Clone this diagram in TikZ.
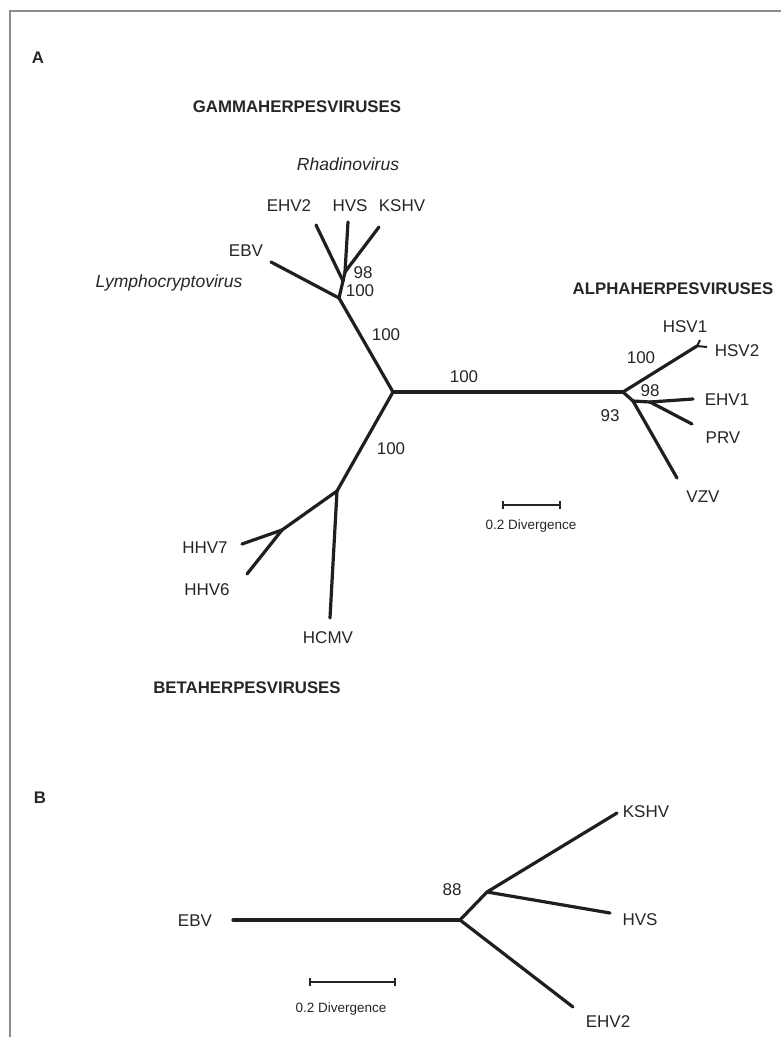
\documentclass[tikz,border=0pt]{standalone}
\usepackage{fontspec}
\setmainfont{Liberation Sans}
\begin{document}
\begin{tikzpicture}[x=1pt,y=-1pt,
  branch/.style={line width=3.2pt,line cap=round,line join=round,black!88},
  lab/.style={inner sep=0pt,font=\fontsize{17}{20}\selectfont,text=black!85},
  ital/.style={lab,font=\fontsize{17.5}{20}\selectfont\itshape},
  head/.style={inner sep=0pt,font=\fontsize{16.8}{20}\selectfont\bfseries,text=black!85},
  small/.style={inner sep=0pt,font=\fontsize{13.5}{16}\selectfont,text=black!85},
  scalebar/.style={line width=2.5pt,black!85},
  frameline/.style={line width=2pt,black!45}]
\useasboundingbox (0,0) rectangle (781,1037);
\fill[white] (0,0) rectangle (781,1037);
% frame
\coordinate (f1) at (781,11);
\coordinate (f2) at (10,11);
\coordinate (f3) at (10,1037);
\draw[frameline] (f1) -- (f2) -- (f3);

% ---------- Panel A tree coordinates ----------
\coordinate (ctr) at (393,392);
\coordinate (gam) at (339,298);
\coordinate (rha) at (343,281);
\coordinate (rha2) at (345,272);
\coordinate (tEHV2) at (316,225);
\coordinate (tHVS) at (348,222);
\coordinate (tKSHV) at (379,227);
\coordinate (tEBV) at (271,262);
\coordinate (alp) at (623,392);
\coordinate (hsv) at (697,346);
\coordinate (tHSV1) at (700,340);
\coordinate (tHSV2) at (707,347);
\coordinate (nb) at (633,401);
\coordinate (nc) at (650,402);
\coordinate (tEHV1) at (693,399);
\coordinate (tPRV) at (692,424);
\coordinate (tVZV) at (677,478);
\coordinate (bet) at (337,491);
\coordinate (tHCMV) at (330,618);
\coordinate (ros) at (282,530);
\coordinate (tHHV7) at (242,544);
\coordinate (tHHV6) at (247,574);

\draw[branch] (ctr) -- (gam);
\draw[branch] (gam) -- (tEBV);
\draw[branch] (gam) -- (rha);
\draw[branch] (rha) -- (tEHV2);
\draw[branch] (rha) -- (rha2);
\draw[branch] (rha2) -- (tHVS);
\draw[branch] (rha2) -- (tKSHV);
\draw[branch] (ctr) -- (alp);
\draw[branch] (alp) -- (hsv);
\draw[line width=2pt,black!88] (hsv) -- (tHSV1);
\draw[line width=2pt,black!88] (hsv) -- (tHSV2);
\draw[branch] (alp) -- (nb);
\draw[branch] (nb) -- (nc);
\draw[branch] (nc) -- (tEHV1);
\draw[branch] (nc) -- (tPRV);
\draw[branch] (nb) -- (tVZV);
\draw[branch] (ctr) -- (bet);
\draw[branch] (bet) -- (tHCMV);
\draw[branch] (bet) -- (ros);
\draw[branch] (ros) -- (tHHV7);
\draw[branch] (ros) -- (tHHV6);

% labels panel A
\node[head] (lA) at (38,58) {A};
\node[head] (gh) at (297,107) {GAMMAHERPESVIRUSES};
\node[ital] (rhl) at (348,164) {Rhadinovirus};
\node[lab] (lEHV2) at (289,206) {EHV2};
\node[lab] (lHVS) at (350,206) {HVS};
\node[lab] (lKSHV) at (402,206) {KSHV};
\node[lab] (lEBV) at (246,251) {EBV};
\node[ital] (lyl) at (169,283) {Lymphocryptovirus};
\node[lab] (b98a) at (363,273) {98};
\node[lab] (b100a) at (360,291) {100};
\node[lab] (b100b) at (386,335) {100};
\node[lab] (b100c) at (464,377) {100};
\node[head] (ah) at (673,289) {ALPHAHERPESVIRUSES};
\node[lab] (lHSV1) at (685,327) {HSV1};
\node[lab] (lHSV2) at (737,351) {HSV2};
\node[lab] (b100d) at (641,358) {100};
\node[lab] (b98b) at (650,391) {98};
\node[lab] (b93) at (610,416) {93};
\node[lab] (lEHV1) at (727,400) {EHV1};
\node[lab] (lPRV) at (723,438) {PRV};
\node[lab] (lVZV) at (703,497) {VZV};
\node[lab] (b100e) at (391,449) {100};
\node[lab] (lHHV7) at (205,548) {HHV7};
\node[lab] (lHHV6) at (207,590) {HHV6};
\node[lab] (lHCMV) at (328,638) {HCMV};
\node[head] (bh) at (247,688) {BETAHERPESVIRUSES};

% scale bar A
\coordinate (sa1) at (503,505);
\coordinate (sa2) at (560,505);
\draw[scalebar] (sa1) -- (sa2);
\draw[scalebar] ([yshift=-4pt]sa1) -- ([yshift=4pt]sa1);
\draw[scalebar] ([yshift=-4pt]sa2) -- ([yshift=4pt]sa2);
\node[small] (sat) at (531,526) {0.2 Divergence};

% ---------- Panel B ----------
\node[head] (lB) at (40,798) {B};
\coordinate (bEBV) at (233,920);
\coordinate (bn) at (460,920);
\coordinate (bn2) at (487,892);
\coordinate (bKSHV) at (617,813);
\coordinate (bHVS) at (610,913);
\coordinate (bEHV2) at (573,1007);
\draw[branch] (bEBV) -- (bn);
\draw[branch] (bn) -- (bn2);
\draw[branch] (bn2) -- (bKSHV);
\draw[branch] (bn2) -- (bHVS);
\draw[branch] (bn) -- (bEHV2);
\node[lab] (blEBV) at (195,921) {EBV};
\node[lab] (b88) at (452,890) {88};
\node[lab] (blKSHV) at (646,812) {KSHV};
\node[lab] (blHVS) at (640,920) {HVS};
\node[lab] (blEHV2) at (608,1022) {EHV2};
\coordinate (sb1) at (310,982);
\coordinate (sb2) at (395,982);
\draw[scalebar] (sb1) -- (sb2);
\draw[scalebar] ([yshift=-4pt]sb1) -- ([yshift=4pt]sb1);
\draw[scalebar] ([yshift=-4pt]sb2) -- ([yshift=4pt]sb2);
\node[small] (sbt) at (341,1009) {0.2 Divergence};
\end{tikzpicture}
\end{document}
